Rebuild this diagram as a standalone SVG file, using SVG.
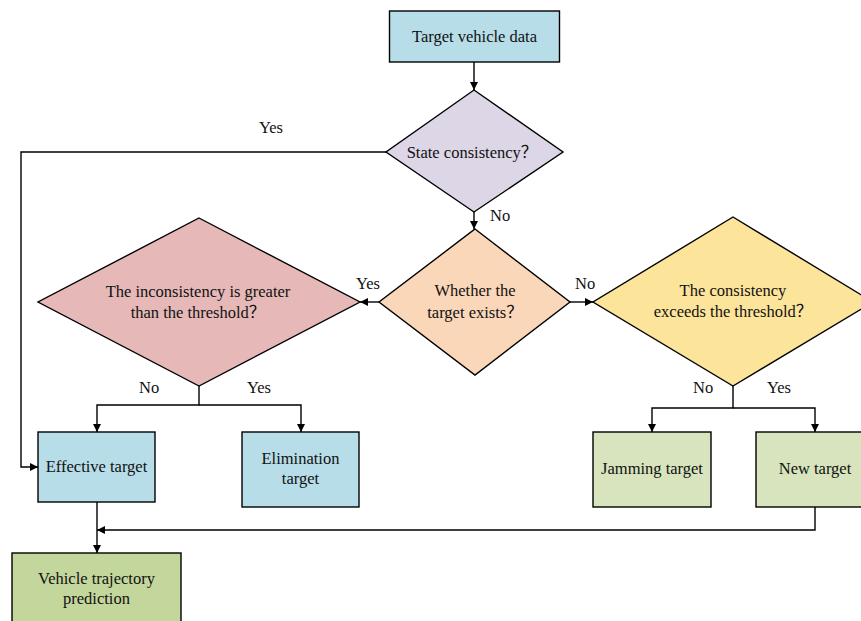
<svg xmlns="http://www.w3.org/2000/svg" width="861" height="621" viewBox="0 0 861 621">
  <style>
    .shape { stroke: #000; stroke-width: 1.4; }
    .txt { font-family: "Liberation Serif", "Noto Sans CJK SC", serif; font-size: 16.5px; fill: #111; text-anchor: middle; }
    .lbl { font-family: "Liberation Serif", "Noto Sans CJK SC", serif; font-size: 16.5px; fill: #111; }
    .wire { fill: none; stroke: #000; stroke-width: 1.4; }
  </style>
  <defs>
    <marker id="arr" viewBox="0 0 10 10" refX="10" refY="5" markerWidth="8" markerHeight="8" markerUnits="userSpaceOnUse" orient="auto">
      <path d="M0,0 L10,5 L0,10 z" fill="#000"/>
    </marker>
  </defs>
  <rect width="861" height="621" fill="#fff"/>

  <!-- connectors -->
  <g id="connectors">
    <path class="wire" d="M474,62 V90" marker-end="url(#arr)"/>
    <path class="wire" d="M474,212 V229" marker-end="url(#arr)"/>
    <path class="wire" d="M386,152 H21 V467 H38" marker-end="url(#arr)"/>
    <path class="wire" d="M379,302 H360" marker-end="url(#arr)"/>
    <path class="wire" d="M570,302 H593" marker-end="url(#arr)"/>
    <path class="wire" d="M199,386 V405 H97 V432" marker-end="url(#arr)"/>
    <path class="wire" d="M199,405 H301 V432" marker-end="url(#arr)"/>
    <path class="wire" d="M733,386 V408 H652 V432" marker-end="url(#arr)"/>
    <path class="wire" d="M733,408 H815 V432" marker-end="url(#arr)"/>
    <path class="wire" d="M97,502 V553" marker-end="url(#arr)"/>
    <path class="wire" d="M815,507 V530 H97" marker-end="url(#arr)"/>
  </g>

  <!-- branch labels -->
  <g id="labels">
    <text class="lbl" x="259" y="133">Yes</text>
    <text class="lbl" x="490" y="221">No</text>
    <text class="lbl" x="356" y="289">Yes</text>
    <text class="lbl" x="575" y="289">No</text>
    <text class="lbl" x="139" y="393">No</text>
    <text class="lbl" x="247" y="393">Yes</text>
    <text class="lbl" x="693" y="393">No</text>
    <text class="lbl" x="767" y="393">Yes</text>
  </g>

  <g id="target-vehicle-data">
    <rect class="shape" x="389.5" y="11" width="170" height="51" fill="#b7dde8"/>
    <text class="txt" x="474.5" y="42">Target vehicle data</text>
  </g>

  <g id="state-consistency">
    <polygon class="shape" points="474,90 563,152 474,212 386,152" fill="#dcd6e6"/>
    <text class="txt" x="472" y="158">State consistency？</text>
  </g>

  <g id="target-exists">
    <polygon class="shape" points="475,229 570,302 475,375 379,302" fill="#fad7b9"/>
    <text class="txt" x="475" y="296">Whether the</text>
    <text class="txt" x="475" y="318">target exists？</text>
  </g>

  <g id="inconsistency-threshold">
    <polygon class="shape" points="199,218 360,302 199,386 38,302" fill="#e6b9b8"/>
    <text class="txt" x="198" y="297">The inconsistency is greater</text>
    <text class="txt" x="198" y="318">than the threshold？</text>
  </g>

  <g id="consistency-threshold">
    <polygon class="shape" points="733,217 873,302 733,386 593,302" fill="#fde49b"/>
    <text class="txt" x="733" y="296">The consistency</text>
    <text class="txt" x="733" y="317">exceeds the threshold？</text>
  </g>

  <g id="effective-target">
    <rect class="shape" x="38" y="432" width="117" height="70" fill="#b7dde8"/>
    <text class="txt" x="96.5" y="472">Effective target</text>
  </g>

  <g id="elimination-target">
    <rect class="shape" x="242" y="432" width="117" height="75" fill="#b7dde8"/>
    <text class="txt" x="300.5" y="464">Elimination</text>
    <text class="txt" x="300.5" y="484">target</text>
  </g>

  <g id="jamming-target">
    <rect class="shape" x="593" y="432" width="118" height="75" fill="#d7e4bd"/>
    <text class="txt" x="652" y="474">Jamming target</text>
  </g>

  <g id="new-target">
    <rect class="shape" x="756" y="432" width="118" height="75" fill="#d7e4bd"/>
    <text class="txt" x="815" y="474">New target</text>
  </g>

  <g id="trajectory-prediction">
    <rect class="shape" x="12" y="553" width="169" height="80" fill="#c3d69b"/>
    <text class="txt" x="96.5" y="584">Vehicle trajectory</text>
    <text class="txt" x="96.5" y="604">prediction</text>
  </g>
</svg>
